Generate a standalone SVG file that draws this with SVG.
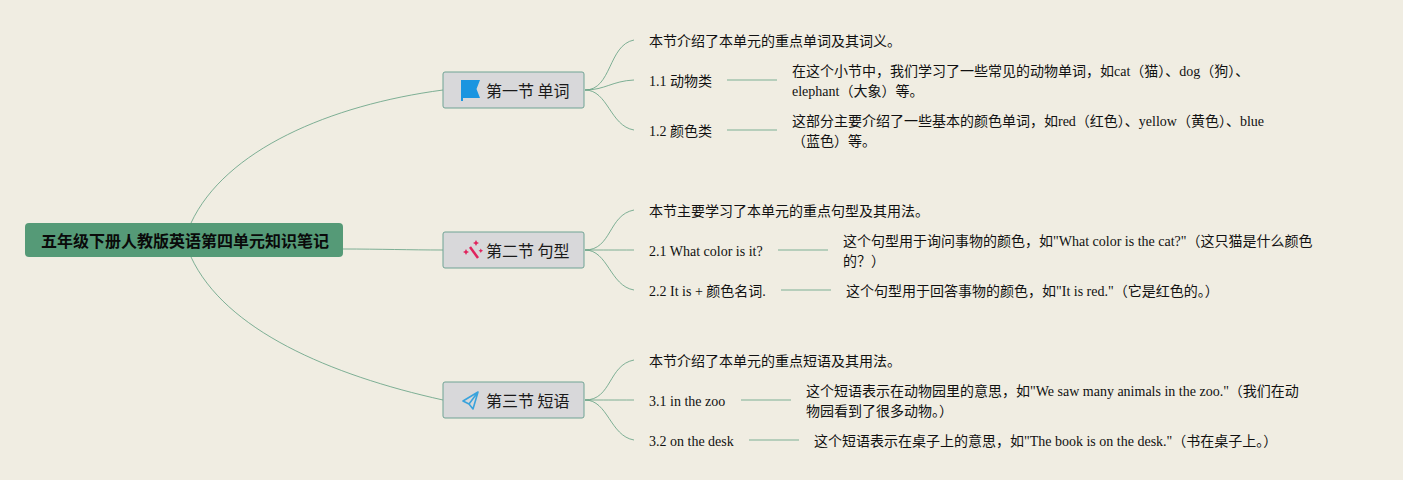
<svg xmlns="http://www.w3.org/2000/svg" width="1403" height="480" viewBox="0 0 1403 480">
<style>
text{font-family:"Liberation Serif","Noto Sans CJK SC",serif;font-size:14px;fill:#111}
.b{fill:#d8d8da;stroke:#6fa394;stroke-width:1}
.bt{font-family:"Noto Sans CJK SC","Liberation Sans",sans-serif;font-size:16px;fill:#1a1a1a}
.c{fill:none;stroke:#5f9e80;stroke-width:.8}
.s{fill:none;stroke:#a3c4ae;stroke-width:1.6}
</style>
<rect width="1403" height="480" fill="#f0ede2"/>
<g id="connectors">
<path class="c" d="M191 223C225 150 330 105 443 90"/>
<path class="c" d="M343 249C380 249 410 250 443 250"/>
<path class="c" d="M191 257C225 330 330 375 443 400"/>
<path class="c" d="M585 90C612 90 608 45 634 40"/>
<path class="c" d="M585 90C605 90 612 81 634 80"/>
<path class="c" d="M585 90C608 90 610 126 634 130"/>
<path class="c" d="M585 250C612 250 608 215 634 210"/>
<path class="c" d="M585 250C605 250 612 250 634 250"/>
<path class="c" d="M585 250C608 250 610 286 634 290"/>
<path class="c" d="M585 400C612 400 608 365 634 360"/>
<path class="c" d="M585 400C605 400 612 400 634 400"/>
<path class="c" d="M585 400C608 400 610 436 634 440"/>
<path class="s" d="M727 80H777M727 130H777M778 250H828M781 290H831M741 400H791M749 440H799"/>
</g>
<g id="root"><rect x="25" y="223" width="318" height="34" rx="4" fill="#559a77"/><text x="41" y="247" style="font-family:'Noto Sans CJK SC',sans-serif;font-size:16px;font-weight:700;fill:#0a0a0a">五年级下册人教版英语第四单元知识笔记</text></g>
<g id="n1"><rect class="b" x="443" y="72" width="141" height="36" rx="2"/>
<path d="M461 80H480L476.500 89L480 98H463V101H461Z" fill="#1b95e0"/>
<text class="bt" x="486" y="97">第一节 单词</text></g>
<g id="n2"><rect class="b" x="443" y="232" width="141" height="36" rx="2"/>
<path d="M470 247L478 258" stroke="#e0245e" stroke-width="2.500" fill="none"/>
<path d="M475 242l1-2 1 2 2 1-2 1-1 2-1-2-2-1zM465 251l1-2 1 2 2 1-2 1-1 2-1-2-2-1zM480 250l.8-1.500.8 1.500 1.500.8-1.500.8-.8 1.500-.8-1.500-1.500-.8z" fill="#e0245e"/>
<text class="bt" x="486" y="257">第二节 句型</text></g>
<g id="n3"><rect class="b" x="443" y="382" width="141" height="36" rx="2"/>
<path d="M478 392L463 401L469 404L473 409ZM478 392L469 404" fill="none" stroke="#3aa3dc" stroke-width="1.600" stroke-linejoin="round"/>
<text class="bt" x="486" y="407">第三节 短语</text></g>
<g id="t10"><text x="649" y="46">本节介绍了本单元的重点单词及其词义。</text></g>
<g id="t11"><text x="649" y="86">1.1 动物类</text></g>
<g id="t111"><text x="792" y="76">在这个小节中，我们学习了一些常见的动物单词，如cat（猫）、dog（狗）、</text><text x="792" y="96">elephant（大象）等。</text></g>
<g id="t12"><text x="649" y="136">1.2 颜色类</text></g>
<g id="t121"><text x="792" y="126">这部分主要介绍了一些基本的颜色单词，如red（红色）、yellow（黄色）、blue</text><text x="792" y="146">（蓝色）等。</text></g>
<g id="t20"><text x="649" y="216">本节主要学习了本单元的重点句型及其用法。</text></g>
<g id="t21"><text x="649" y="256">2.1 What color is it?</text></g>
<g id="t211"><text x="843" y="246">这个句型用于询问事物的颜色，如"What color is the cat?"（这只猫是什么颜色</text><text x="843" y="266">的？）</text></g>
<g id="t22"><text x="649" y="296">2.2 It is + 颜色名词.</text></g>
<g id="t221"><text x="846" y="296">这个句型用于回答事物的颜色，如"It is red."（它是红色的。）</text></g>
<g id="t30"><text x="649" y="366">本节介绍了本单元的重点短语及其用法。</text></g>
<g id="t31"><text x="649" y="406">3.1 in the zoo</text></g>
<g id="t311"><text x="806" y="396">这个短语表示在动物园里的意思，如"We saw many animals in the zoo."（我们在动</text><text x="806" y="416">物园看到了很多动物。）</text></g>
<g id="t32"><text x="649" y="446">3.2 on the desk</text></g>
<g id="t321"><text x="814" y="446">这个短语表示在桌子上的意思，如"The book is on the desk."（书在桌子上。）</text></g>
</svg>
